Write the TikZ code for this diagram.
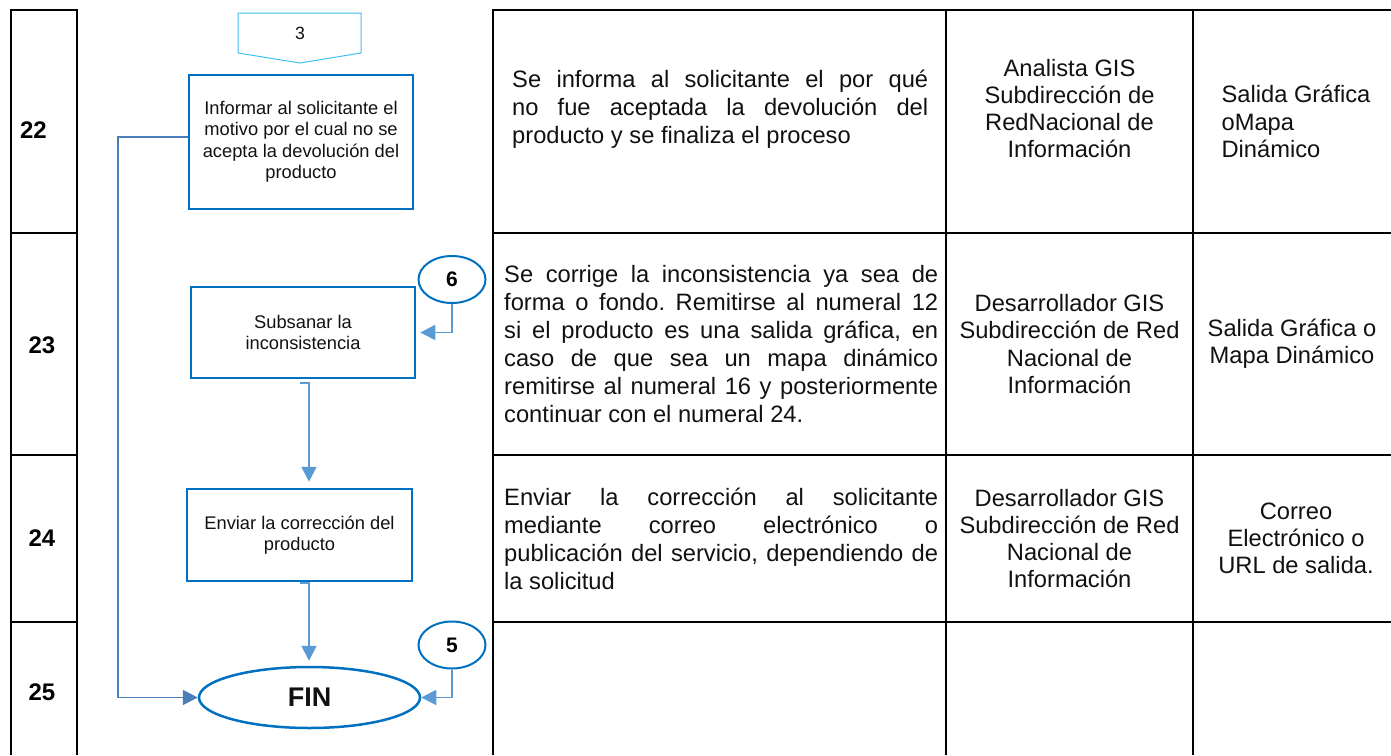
\documentclass[tikz,border=0pt]{standalone}
\usepackage{fontspec}
\setmainfont{Liberation Sans}
\usetikzlibrary{arrows.meta,shapes.geometric}
\definecolor{boxblue}{HTML}{0070C0}
\definecolor{connblue}{HTML}{5B9BD5}
\definecolor{conndark}{HTML}{4A7EBB}
\definecolor{offblue}{HTML}{3FC0F0}
\definecolor{txt}{HTML}{111111}
\tikzset{
  grid/.style={line width=2pt, black},
  procbox/.style={draw=boxblue, line width=2.5pt, rectangle, inner sep=0pt, align=center,
     text=txt, font=\fontsize{18.3}{21.5}\selectfont},
  refcirc/.style={draw=boxblue, line width=2pt, ellipse, inner sep=0pt,
     minimum width=67pt, minimum height=47pt, font=\fontsize{21}{24}\bfseries\selectfont},
  conn/.style={draw=connblue, line width=1.8pt, -{Triangle[length=15pt,width=15pt]}},
  conndk/.style={draw=conndark, line width=1.8pt, -{Triangle[length=15pt,width=15pt]}},
  rownum/.style={font=\fontsize{24}{28}\bfseries\selectfont, inner sep=0pt},
  bodyj/.style={anchor=north west, inner sep=0pt, align=justify, text=txt,
     font=\fontsize{23.7}{28}\selectfont\frenchspacing},
  bodyc/.style={anchor=center, inner sep=0pt, align=center, text=txt,
     font=\fontsize{23.7}{27.3}\selectfont},
  bodyl/.style={anchor=center, inner sep=0pt, align=left, text=txt,
     font=\fontsize{23.7}{27.3}\selectfont},
}
\begin{document}
\begin{tikzpicture}[x=1pt,y=-1pt]
\useasboundingbox (0,0) rectangle (1391,755);
% left column
\draw[grid] (11,755) -- (11,10) -- (77,10) -- (77,755);
\foreach \yy in {233,455,622} \draw[grid] (11,\yy) -- (77,\yy);
% right table
\draw[grid] (493,755) -- (493,10) -- (1391,10);
\foreach \xx in {946,1193} \draw[grid] (\xx,10) -- (\xx,755);
\foreach \yy in {233,455,622} \draw[grid] (493,\yy) -- (1391,\yy);
% row numbers
\node[rownum] (n22) at (33.5,130) {22};
\node[rownum] (n23) at (42,345) {23};
\node[rownum] (n24) at (42,538) {24};
\node[rownum] (n25) at (42,692) {25};
% off-page connector 3
\draw[offblue, line width=1pt] (238,13) -- (361,13) -- (361,53) -- (300,63) -- (238,53) -- cycle;
\node[font=\fontsize{17.7}{20}\selectfont, text=txt, inner sep=0pt] (p3) at (300,33) {3};
% process boxes
\node[procbox, minimum width=224pt, minimum height=134pt] (b1) at (301,142)
  {Informar al solicitante el\\motivo por el cual no se\\acepta la devolución del\\producto};
\node[procbox, minimum width=224pt, minimum height=91pt] (b2) at (303,332.5)
  {Subsanar la\\inconsistencia};
\node[procbox, minimum width=225pt, minimum height=92pt] (b3) at (299.5,535)
  {Enviar la corrección del\\producto};
\node[draw=boxblue, line width=2.5pt, ellipse, minimum width=221pt, minimum height=61pt,
  inner sep=0pt, font=\fontsize{27}{30}\bfseries\selectfont, text=txt] (fin) at (309.5,697.5) {FIN};
\node[refcirc] (c6) at (452,279.5) {6};
\node[refcirc] (c5) at (452,645) {5};
% connectors
\draw[conndk] ([yshift=5pt]b1.west) -- ++(-70,0) |- (fin.west);
\draw[conn] (c6.south) |- ([xshift=4pt]b2.east);
\draw[conn] (c5.south) |- (fin.east);
\coordinate (h2) at (300,383);
\draw[conn] (h2) -- ++(9,0) coordinate (t2) -- ([yshift=6pt]t2 |- b3.north);
\coordinate (h3) at (300,583);
\draw[conn] (h3) -- ++(9,0) coordinate (t3) -- ([yshift=5pt]t3 |- fin.north);
% row 22 texts
\node[bodyj, text width=416pt] (d22) at (512,70)
 {Se informa al solicitante el por qué\linebreak no fue aceptada la devolución del\linebreak producto y se finaliza el proceso};
\node[bodyc] (r22) at (1069.5,108.5) {Analista GIS\\Subdirección de\\RedNacional de\\Información};
\node[bodyl] (s22) at (1296,121.5) {Salida Gráfica\\oMapa\\Dinámico};
% row 23 texts
\node[bodyj, text width=434pt] (d23) at (504,265)
 {Se corrige la inconsistencia ya sea de\linebreak forma o fondo. Remitirse al numeral 12\linebreak si el producto es una salida gráfica, en\linebreak caso de que sea un mapa dinámico\linebreak remitirse al numeral 16 y posteriormente\linebreak continuar con el numeral 24.};
\node[bodyc] (r23) at (1069.5,344) {Desarrollador GIS\\Subdirección de Red\\Nacional de\\Información};
\node[bodyc] (s23) at (1292,344) {Salida Gráfica o\\Mapa Dinámico};
% row 24 texts
\node[bodyj, text width=434pt] (d24) at (504,488)
 {Enviar la corrección al solicitante\linebreak mediante correo electrónico o\linebreak publicación del servicio, dependiendo de\linebreak la solicitud};
\node[bodyc] (r24) at (1069.5,538.5) {Desarrollador GIS\\Subdirección de Red\\Nacional de\\Información};
\node[bodyc] (s24) at (1296,538.5) {Correo\\Electrónico o\\URL de salida.};
\end{tikzpicture}
\end{document}
